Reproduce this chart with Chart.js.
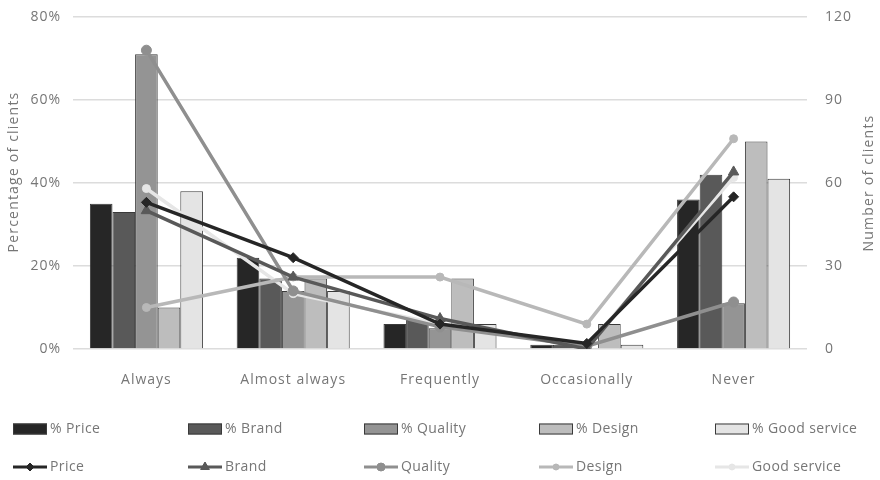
<!DOCTYPE html>
<html>
<head>
<meta charset="utf-8">
<script src="https://cdn.jsdelivr.net/npm/chart.js@4/dist/chart.umd.min.js"></script>
<style>
  html, body { margin: 0; padding: 0; background: #fff; }
  #wrap { position: relative; width: 880px; height: 480px; }
</style>
</head>
<body>
<div id="wrap"><canvas id="c" width="880" height="480"></canvas></div>
<script>
// Answer frequency per category
const categories = ['Always', 'Almost always', 'Frequently', 'Occasionally', 'Never'];

// Share of clients (%), left axis
const pctPrice   = [35, 22, 6, 1, 36];
const pctBrand   = [33, 17, 7, 1, 42];
const pctQuality = [71, 14, 5, 0, 11];
const pctDesign  = [10, 17, 17, 6, 50];
const pctGood    = [38, 14, 6, 1, 41];

// Number of clients, right axis
const cntPrice   = [53, 33, 9, 2, 55];
const cntBrand   = [50, 26, 11, 0, 64];
const cntQuality = [108, 21, 8, 1, 17];
const cntDesign  = [15, 26, 26, 9, 76];
const cntGood    = [58, 20, 9, 1, 62];

// Axis ticks
const pctTicks = [0, 20, 40, 60, 80];
const cntTicks = [0, 30, 60, 90, 120];

const leftTitle  = 'Percentage of clients';
const rightTitle = 'Number of clients';

const barFill  = ['#262626', '#595959', '#949494', '#bdbdbd', '#e4e4e4'];
const lineCol  = ['#262626', '#595959', '#8f8f8f', '#b8b8b8', '#e6e6e6'];
const markers  = ['rectRot', 'triangle', 'circle', 'circle', 'circle'];
const markerR  = [5, 6, 5, 4, 4];

const barNames  = ['% Price', '% Brand', '% Quality', '% Design', '% Good service'];
const lineNames = ['Price', 'Brand', 'Quality', 'Design', 'Good service'];
const pctSeries = [pctPrice, pctBrand, pctQuality, pctDesign, pctGood];
const cntSeries = [cntPrice, cntBrand, cntQuality, cntDesign, cntGood];

const FONT = '"Open Sans", "DejaVu Sans", sans-serif';
const TXT = '#767676';

const datasets = [];
pctSeries.forEach((vals, i) => {
  datasets.push({
    type: 'bar', label: barNames[i], data: vals, yAxisID: 'y',
    backgroundColor: barFill[i], borderColor: '#3a3a3a', borderWidth: 1,
    categoryPercentage: 0.77, barPercentage: 1.0, order: 2
  });
});
cntSeries.forEach((vals, i) => {
  datasets.push({
    type: 'line', label: lineNames[i], data: vals, yAxisID: 'y1',
    borderColor: lineCol[i], backgroundColor: lineCol[i], borderWidth: 3.5,
    pointStyle: markers[i], pointRadius: markerR[i], pointBorderWidth: 1,
    pointBorderColor: lineCol[i], pointBackgroundColor: lineCol[i],
    tension: 0, fill: false, order: 1
  });
});

// Wider tracking for all axis text
const spacingPlugin = {
  id: 'tracking',
  beforeDraw(chart) { chart.ctx.letterSpacing = '1px'; }
};

// Axis titles, both reading bottom-to-top
const titlesPlugin = {
  id: 'axisTitles',
  afterDraw(chart) {
    const ctx = chart.ctx;
    const draw = (text, x, y) => {
      ctx.save();
      ctx.font = '14px ' + FONT;
      ctx.letterSpacing = '1.2px';
      ctx.fillStyle = TXT;
      ctx.textAlign = 'center';
      ctx.textBaseline = 'middle';
      ctx.translate(x, y);
      ctx.rotate(-Math.PI / 2);
      ctx.fillText(text, 0, 0);
      ctx.restore();
    };
    draw(leftTitle, 14, 172);
    draw(rightTitle, 869, 183);
  }
};

// Two-row legend laid out in fixed columns under the plot
const legendPlugin = {
  id: 'gridLegend',
  afterDraw(chart) {
    const ctx = chart.ctx;
    const cols = [13, 188, 364, 539, 715];
    ctx.save();
    ctx.font = '14px ' + FONT;
    ctx.letterSpacing = '0.4px';
    ctx.textBaseline = 'middle';
    for (let i = 0; i < 5; i++) {
      const x = cols[i];
      // bar swatch
      const y1 = 429;
      ctx.fillStyle = barFill[i];
      ctx.fillRect(x, y1 - 5.5, 34, 11);
      ctx.strokeStyle = '#3a3a3a';
      ctx.lineWidth = 1;
      ctx.strokeRect(x + 0.5, y1 - 5.5 + 0.5, 33, 10);
      ctx.fillStyle = TXT;
      ctx.fillText(barNames[i], x + 37, y1);
      // line swatch
      const y2 = 467;
      ctx.strokeStyle = lineCol[i];
      ctx.lineWidth = 3;
      ctx.beginPath();
      ctx.moveTo(x, y2); ctx.lineTo(x + 34, y2);
      ctx.stroke();
      ctx.fillStyle = lineCol[i];
      ctx.lineWidth = 1;
      Chart.helpers.drawPoint(ctx, { pointStyle: markers[i], radius: markerR[i] - 1, rotation: 0, borderWidth: 1 }, x + 17, y2);
      ctx.fill();
      ctx.fillStyle = TXT;
      ctx.fillText(lineNames[i], x + 37, y2);
    }
    ctx.restore();
  }
};

// Fixed side widths, no extra label padding above/below the plot
const fitSide = (s) => { s.width = 73; s.paddingTop = 0; s.paddingBottom = 0; };

new Chart(document.getElementById('c'), {
  data: { labels: categories, datasets },
  options: {
    responsive: false,
    animation: false,
    layout: { autoPadding: false, padding: { top: 17, bottom: 90, left: 0, right: 0 } },
    plugins: { legend: { display: false }, tooltip: { enabled: false } },
    scales: {
      x: {
        grid: { display: false },
        border: { display: false },
        ticks: { color: TXT, font: { family: FONT, size: 14 }, padding: 15 },
        afterFit(s) { s.height = 41; s.paddingLeft = 0; s.paddingRight = 0; }
      },
      y: {
        position: 'left', min: 0, max: 80,
        afterBuildTicks(s) { s.ticks = pctTicks.map(v => ({ value: v })); },
        ticks: { color: TXT, font: { family: FONT, size: 14 }, callback: v => v + '%', padding: 12 },
        grid: { color: '#dcdcdc', lineWidth: 1.5, drawTicks: false },
        border: { display: false },
        afterFit: fitSide
      },
      y1: {
        position: 'right', min: 0, max: 120,
        afterBuildTicks(s) { s.ticks = cntTicks.map(v => ({ value: v })); },
        ticks: { color: TXT, font: { family: FONT, size: 14 }, padding: 18 },
        grid: { display: false, drawTicks: false },
        border: { display: false },
        afterFit: fitSide
      }
    }
  },
  plugins: [spacingPlugin, titlesPlugin, legendPlugin]
});
</script>
</body>
</html>
